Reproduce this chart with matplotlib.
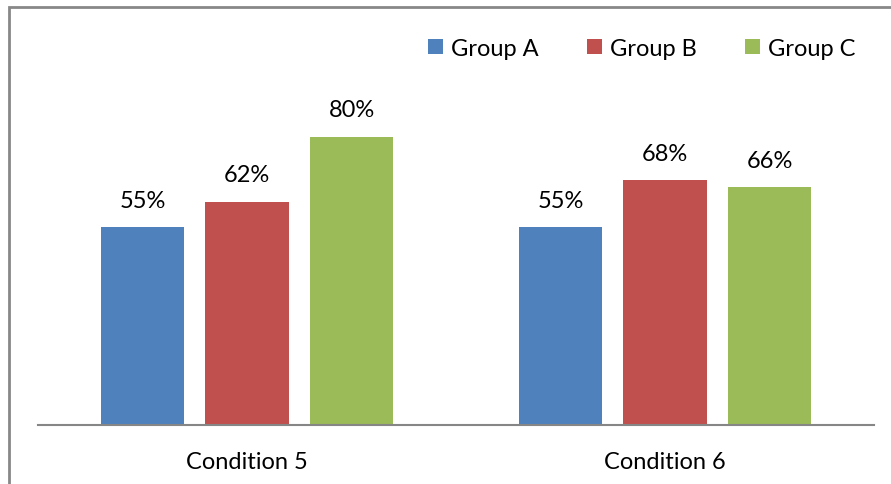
import matplotlib
matplotlib.use("Agg")
import matplotlib.pyplot as plt
from matplotlib.patches import Rectangle
import numpy as np

plt.rcParams['font.family'] = ['Lato', 'DejaVu Sans']

categories = ["Condition 5", "Condition 6"]
groups = ["Group A", "Group B", "Group C"]
group_a = [55, 55]
group_b = [62, 68]
group_c = [80, 66]
colors = ["#4F81BD", "#C0504D", "#9BBB59"]

W, H = 891, 485
fig = plt.figure(figsize=(W / 100, H / 100), dpi=100)
ax = fig.add_axes([38 / W, (H - 426) / H, 836 / W, 360 / H])

x = np.arange(len(categories))
width = 0.2
offsets = [-0.25, 0.0, 0.25]
series = [group_a, group_b, group_c]
fs = 17
for name, vals, off, c in zip(groups, series, offsets, colors):
    bars = ax.bar(x + off, vals, width, color=c, label=name, zorder=2)
    for b, v in zip(bars, vals):
        ax.annotate(f"{v}%", (b.get_x() + b.get_width() / 2, v),
                    xytext=(0, 27 * 0.72), textcoords="offset points",
                    ha="center", va="center", fontsize=fs, color="black")

ax.set_xlim(-0.5, 1.5)
ax.set_ylim(0, 100)
ax.set_yticks([])
ax.set_xticks(x)
ax.set_xticklabels(categories, fontsize=fs)
ax.tick_params(axis="x", length=0, pad=19)
for s in ["top", "right", "left"]:
    ax.spines[s].set_visible(False)
ax.spines["bottom"].set_color("#868686")
ax.spines["bottom"].set_linewidth(1.5)

leg = fig.legend(loc="upper left", bbox_to_anchor=(428 / W, 1 - 39 / H),
                 ncol=3, frameon=False, fontsize=fs, handlelength=0.62,
                 handleheight=0.62, handletextpad=0.35, columnspacing=2.05,
                 borderaxespad=0, borderpad=0)

fig.add_artist(Rectangle((8.5 / W, -0.1), 1.2, 1 - 7.5 / H + 0.1,
                         transform=fig.transFigure, fill=False,
                         edgecolor="#888888", linewidth=2))

fig.savefig("out.png", dpi=100)
